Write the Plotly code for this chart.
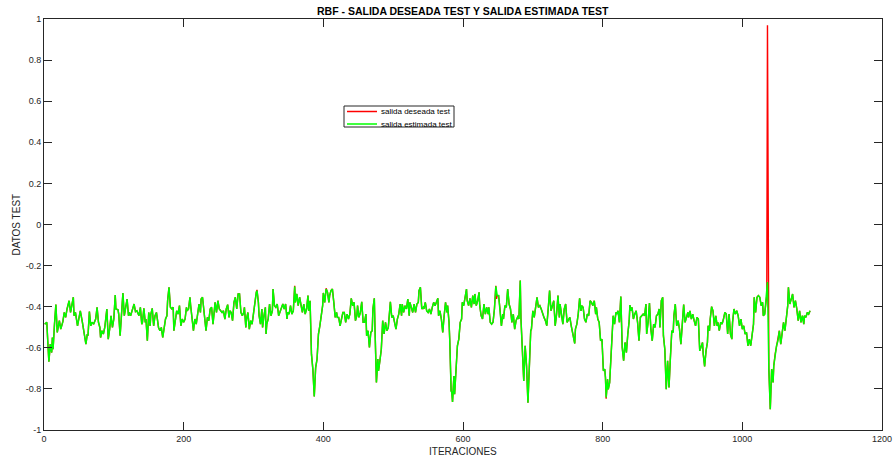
import plotly.graph_objects as go

# Iteration index of each sample of the test set
iteraciones = [
    1, 4, 6, 7, 9, 11, 12, 13, 15, 17, 19, 21, 22, 24, 27, 29, 31, 33, 36, 38,
    40, 42, 43, 45, 48, 50, 52, 55, 57, 60, 62, 63, 65, 67, 69, 71, 74, 76, 78, 80,
    81, 83, 85, 87, 90, 92, 94, 96, 98, 100, 102, 103, 106, 107, 109, 111, 113, 115, 117, 119,
    121, 122, 124, 126, 129, 131, 133, 136, 138, 140, 141,
    143, 145, 146, 148, 150, 152, 153, 155, 157, 159, 161, 163, 164, 166, 168, 170, 172, 174, 176, 177,
    179, 181, 183, 185, 186, 188, 190, 192, 194, 196, 198, 200, 202, 204, 205, 207, 209, 210, 212, 214,
    216, 218, 220, 222, 224, 225, 227, 229, 231, 232, 234, 236, 238, 240, 242, 244, 245, 247, 249, 251,
    253, 255, 257, 259, 261, 263, 265, 266, 268, 270, 272, 274, 276, 278, 280, 282, 284, 286, 287, 289,
    290, 292, 294, 296, 298, 300, 302, 304, 305, 307, 308, 310, 312, 313, 315, 317, 318, 319, 321, 323,
    325, 327, 328, 330, 332, 334, 336, 338, 340, 342, 344, 346, 348, 349, 351, 353, 355, 357, 359, 360,
    362, 364, 366, 368, 370, 372, 374, 376, 378, 379, 381, 383, 385, 387, 389, 391, 393, 395, 397, 399,
    400, 402, 404, 406, 408, 409, 411, 413, 415, 417, 419, 420, 422, 424, 426, 428, 430, 432,
    434, 436, 438, 440, 442, 444, 446, 448, 449, 451, 453, 455, 457, 459, 461, 462, 464, 466, 468, 470,
    471, 473, 474, 476, 478, 479, 481, 483, 485, 487, 489, 491, 493, 494, 496, 498, 500, 502, 504, 506,
    508, 510, 512, 513, 515, 517, 519, 521, 523, 524, 526, 528, 530, 532, 534, 536, 537, 539, 541, 543,
    544, 546, 548, 550, 552, 554, 556, 558, 560, 562, 564, 565, 567, 569, 571, 573, 575,
    577, 578, 580, 581, 583, 584, 585, 587, 588, 590, 592, 594, 596, 598, 599, 601, 603, 605, 606, 608,
    610, 612, 614, 616, 617, 619, 621, 623, 624, 626, 628, 630, 632, 634, 636, 637, 639, 641, 643, 645,
    647, 648, 649, 651, 653, 655, 657, 658, 660, 662, 664, 666, 668, 670, 672, 674, 676, 678, 679, 680,
    682, 683, 685, 687, 689, 691, 693, 695, 697, 698, 700, 702, 704, 706, 708, 710, 712, 714, 716, 718,
    720, 722, 724, 726, 728, 730, 732, 734, 736, 738, 739, 741, 743, 745, 747, 749, 751, 753, 755, 757,
    758, 760, 761, 763, 765, 767, 769, 770, 772, 774, 776, 778, 780, 782, 784, 786, 788, 790, 791, 793,
    795, 797, 799, 800, 801, 803, 804, 805, 807, 808, 810, 812, 814, 815, 817, 819, 820, 822, 824, 826,
    828, 830, 832, 834, 836, 838, 839, 841, 842, 844, 846, 848, 850, 852, 854, 856, 858, 860,
    862, 863, 865, 867, 869, 871, 873, 875, 877, 879, 881, 882, 884, 886, 887, 889, 891, 893, 895, 897,
    899, 901, 902, 904, 906, 908, 910, 912, 914, 916, 918, 920, 922, 923, 925, 927, 929, 931, 933, 935,
    937, 939, 941, 943, 944, 946, 948, 950, 951, 953, 954, 956, 958, 960, 962, 964, 965, 967, 969, 971,
    973, 975, 977, 979, 981, 983, 985, 986, 988, 990, 992, 994, 996, 998, 1000, 1002, 1004,
    1006, 1008, 1010, 1012, 1014, 1016, 1017, 1019, 1021, 1023, 1025, 1027, 1029, 1030, 1032, 1034, 1035, 1036, 1038, 1040,
    1042, 1044, 1045, 1047, 1049, 1051, 1053, 1055, 1057, 1059, 1061, 1063, 1065, 1066, 1068, 1070, 1072, 1074, 1076, 1078,
    1080, 1082, 1084, 1086, 1088, 1089, 1091, 1093, 1095, 1097,
]

# Target output of the test set
salida_deseada = [
    -0.485, -0.476, -0.607, -0.668, -0.582, -0.623, -0.550, -0.607, -0.485, -0.390, -0.525, -0.493, -0.468, -0.509, -0.473, -0.428, -0.452, -0.411, -0.371, -0.428,
    -0.395, -0.354, -0.444, -0.428, -0.493, -0.460, -0.420, -0.476, -0.517, -0.582, -0.533, -0.541, -0.424, -0.493, -0.476, -0.485, -0.460, -0.403, -0.476, -0.501,
    -0.550, -0.517, -0.533, -0.501, -0.411, -0.558, -0.509, -0.444, -0.501, -0.460, -0.343, -0.411, -0.415, -0.436, -0.541, -0.428, -0.333, -0.444, -0.411, -0.363,
    -0.444, -0.428, -0.444, -0.420, -0.387, -0.424, -0.420, -0.444, -0.403, -0.485, -0.476,
    -0.408, -0.476, -0.460, -0.566, -0.428, -0.493, -0.436, -0.408, -0.493, -0.444, -0.428, -0.493, -0.501, -0.517, -0.501, -0.550, -0.493, -0.460, -0.444, -0.371,
    -0.306, -0.403, -0.411, -0.403, -0.517, -0.460, -0.420, -0.436, -0.395, -0.493, -0.460, -0.476, -0.460, -0.403, -0.420, -0.411, -0.354, -0.395, -0.460, -0.517,
    -0.460, -0.485, -0.436, -0.387, -0.428, -0.363, -0.354, -0.428, -0.476, -0.517, -0.452, -0.468, -0.411, -0.403, -0.485, -0.411, -0.379, -0.428, -0.371, -0.411,
    -0.420, -0.428, -0.420, -0.460, -0.411, -0.390, -0.452, -0.420, -0.428, -0.468, -0.379, -0.354, -0.411, -0.338, -0.338, -0.428, -0.444, -0.428, -0.403, -0.501,
    -0.460, -0.428, -0.509, -0.468, -0.485, -0.436, -0.363, -0.330, -0.318, -0.379, -0.444, -0.485, -0.411, -0.501, -0.444, -0.403, -0.533, -0.485, -0.460, -0.387,
    -0.444, -0.420, -0.314, -0.395, -0.403, -0.387, -0.444, -0.428, -0.403, -0.387, -0.411, -0.387, -0.460, -0.428, -0.436, -0.395, -0.436, -0.420, -0.298, -0.379,
    -0.338, -0.395, -0.354, -0.395, -0.428, -0.387, -0.436, -0.411, -0.346, -0.420, -0.371, -0.631, -0.704, -0.837, -0.696, -0.655, -0.533, -0.493, -0.444, -0.395,
    -0.333, -0.379, -0.310, -0.330, -0.379, -0.346, -0.322, -0.314, -0.379, -0.452, -0.428, -0.452, -0.452, -0.493, -0.460, -0.428, -0.428, -0.476,
    -0.436, -0.460, -0.436, -0.359, -0.395, -0.379, -0.468, -0.444, -0.395, -0.452, -0.428, -0.376, -0.476, -0.476, -0.436, -0.541, -0.517, -0.598, -0.525, -0.517,
    -0.411, -0.359, -0.509, -0.769, -0.655, -0.712, -0.663, -0.607, -0.468, -0.533, -0.476, -0.517, -0.501, -0.436, -0.376, -0.452, -0.444, -0.476, -0.509, -0.460,
    -0.436, -0.387, -0.444, -0.387, -0.428, -0.395, -0.411, -0.363, -0.444, -0.379, -0.411, -0.428, -0.387, -0.428, -0.387, -0.379, -0.322, -0.306, -0.411, -0.403,
    -0.411, -0.379, -0.420, -0.428, -0.411, -0.436, -0.403, -0.379, -0.395, -0.371, -0.359, -0.444, -0.420, -0.460, -0.525, -0.444, -0.379,
    -0.428, -0.395, -0.476, -0.558, -0.810, -0.818, -0.863, -0.737, -0.826, -0.688, -0.590, -0.558, -0.476, -0.460, -0.379, -0.395, -0.346, -0.314, -0.371, -0.395,
    -0.359, -0.403, -0.346, -0.387, -0.338, -0.395, -0.371, -0.330, -0.395, -0.444, -0.460, -0.387, -0.436, -0.403, -0.436, -0.403, -0.476, -0.485, -0.476, -0.411,
    -0.298, -0.362, -0.346, -0.346, -0.411, -0.493, -0.436, -0.460, -0.395, -0.403, -0.314, -0.387, -0.411, -0.476, -0.436, -0.509, -0.468, -0.452, -0.444, -0.460,
    -0.273, -0.460, -0.639, -0.761, -0.590, -0.688, -0.867, -0.672, -0.517, -0.509, -0.420, -0.452, -0.395, -0.354, -0.403, -0.395, -0.411, -0.436, -0.452, -0.468,
    -0.493, -0.411, -0.322, -0.420, -0.387, -0.371, -0.493, -0.436, -0.346, -0.452, -0.387, -0.444, -0.485, -0.411, -0.387, -0.476, -0.460, -0.452, -0.493, -0.533,
    -0.533, -0.579, -0.509, -0.485, -0.436, -0.359, -0.420, -0.395, -0.403, -0.460, -0.476, -0.436, -0.444, -0.371, -0.379, -0.395, -0.371, -0.436, -0.403, -0.460,
    -0.476, -0.566, -0.558, -0.688, -0.712, -0.704, -0.745, -0.848, -0.753, -0.802, -0.769, -0.639, -0.533, -0.444, -0.485, -0.428, -0.436, -0.420, -0.476, -0.350,
    -0.598, -0.663, -0.574, -0.623, -0.533, -0.468, -0.392, -0.420, -0.403, -0.460, -0.436, -0.420, -0.476, -0.566, -0.452, -0.444, -0.436, -0.444,
    -0.387, -0.533, -0.476, -0.382, -0.509, -0.566, -0.485, -0.501, -0.444, -0.436, -0.411, -0.501, -0.371, -0.354, -0.541, -0.607, -0.802, -0.663, -0.793, -0.647,
    -0.517, -0.525, -0.444, -0.387, -0.493, -0.468, -0.509, -0.582, -0.476, -0.390, -0.476, -0.444, -0.428, -0.452, -0.420, -0.460, -0.436, -0.468, -0.493, -0.452,
    -0.460, -0.615, -0.598, -0.574, -0.631, -0.691, -0.615, -0.574, -0.493, -0.517, -0.460, -0.400, -0.420, -0.493, -0.444, -0.493, -0.476, -0.517, -0.476, -0.485,
    -0.460, -0.428, -0.436, -0.533, -0.436, -0.533, -0.558, -0.476, -0.411, -0.436, -0.420, -0.444, -0.493, -0.460, -0.509, -0.493, -0.533,
    -0.525, -0.590, -0.558, -0.590, -0.533, -0.485, -0.354, -0.428, -0.354, -0.346, -0.354, -0.395, -0.379, -0.444, -0.436, -0.363, -0.346, 0.970, -0.704, -0.899,
    -0.704, -0.769, -0.688, -0.631, -0.590, -0.566, -0.517, -0.582, -0.533, -0.476, -0.517, -0.444, -0.395, -0.306, -0.387, -0.363, -0.338, -0.403, -0.371, -0.411,
    -0.468, -0.420, -0.476, -0.444, -0.485, -0.444, -0.452, -0.428, -0.436, -0.420,
]

# Output estimated by the RBF network on the same samples
salida_estimada = [
    -0.485, -0.476, -0.607, -0.668, -0.582, -0.623, -0.550, -0.607, -0.485, -0.390, -0.525, -0.493, -0.468, -0.509, -0.473, -0.428, -0.452, -0.411, -0.371, -0.428,
    -0.395, -0.354, -0.444, -0.428, -0.493, -0.460, -0.420, -0.476, -0.517, -0.582, -0.533, -0.541, -0.424, -0.493, -0.476, -0.485, -0.460, -0.403, -0.476, -0.501,
    -0.550, -0.517, -0.533, -0.501, -0.411, -0.558, -0.509, -0.444, -0.501, -0.460, -0.343, -0.411, -0.415, -0.436, -0.541, -0.428, -0.333, -0.444, -0.411, -0.363,
    -0.444, -0.428, -0.444, -0.420, -0.387, -0.424, -0.420, -0.444, -0.403, -0.485, -0.476,
    -0.408, -0.476, -0.460, -0.566, -0.428, -0.493, -0.436, -0.408, -0.493, -0.444, -0.428, -0.493, -0.501, -0.517, -0.501, -0.550, -0.493, -0.460, -0.444, -0.371,
    -0.306, -0.403, -0.411, -0.403, -0.517, -0.460, -0.420, -0.436, -0.395, -0.493, -0.460, -0.476, -0.460, -0.403, -0.420, -0.411, -0.354, -0.395, -0.460, -0.517,
    -0.460, -0.485, -0.436, -0.387, -0.428, -0.363, -0.354, -0.428, -0.476, -0.517, -0.452, -0.468, -0.411, -0.403, -0.485, -0.411, -0.379, -0.428, -0.371, -0.411,
    -0.420, -0.428, -0.420, -0.460, -0.411, -0.390, -0.452, -0.420, -0.428, -0.468, -0.379, -0.354, -0.411, -0.338, -0.338, -0.428, -0.444, -0.428, -0.403, -0.501,
    -0.460, -0.428, -0.509, -0.468, -0.485, -0.436, -0.363, -0.330, -0.322, -0.379, -0.444, -0.485, -0.411, -0.501, -0.444, -0.403, -0.533, -0.485, -0.460, -0.387,
    -0.444, -0.420, -0.314, -0.395, -0.403, -0.387, -0.444, -0.428, -0.403, -0.387, -0.411, -0.387, -0.460, -0.428, -0.436, -0.395, -0.436, -0.420, -0.302, -0.379,
    -0.338, -0.395, -0.354, -0.395, -0.428, -0.387, -0.436, -0.411, -0.346, -0.420, -0.371, -0.631, -0.704, -0.837, -0.696, -0.655, -0.533, -0.493, -0.444, -0.395,
    -0.333, -0.379, -0.314, -0.330, -0.379, -0.346, -0.322, -0.314, -0.379, -0.452, -0.428, -0.452, -0.452, -0.493, -0.460, -0.428, -0.428, -0.476,
    -0.436, -0.460, -0.436, -0.359, -0.395, -0.379, -0.468, -0.444, -0.395, -0.452, -0.428, -0.376, -0.476, -0.476, -0.436, -0.541, -0.517, -0.598, -0.525, -0.517,
    -0.411, -0.359, -0.509, -0.769, -0.655, -0.712, -0.663, -0.607, -0.468, -0.533, -0.476, -0.517, -0.501, -0.436, -0.376, -0.452, -0.444, -0.476, -0.509, -0.460,
    -0.436, -0.387, -0.444, -0.387, -0.428, -0.395, -0.411, -0.363, -0.444, -0.379, -0.411, -0.428, -0.387, -0.428, -0.387, -0.379, -0.322, -0.306, -0.411, -0.403,
    -0.411, -0.379, -0.420, -0.428, -0.411, -0.436, -0.403, -0.379, -0.395, -0.371, -0.359, -0.444, -0.420, -0.460, -0.525, -0.444, -0.379,
    -0.428, -0.395, -0.476, -0.558, -0.810, -0.818, -0.863, -0.737, -0.826, -0.688, -0.590, -0.558, -0.476, -0.460, -0.379, -0.395, -0.346, -0.314, -0.371, -0.395,
    -0.359, -0.403, -0.346, -0.387, -0.338, -0.395, -0.371, -0.330, -0.395, -0.444, -0.460, -0.387, -0.436, -0.403, -0.436, -0.403, -0.476, -0.485, -0.476, -0.411,
    -0.301, -0.346, -0.346, -0.346, -0.411, -0.493, -0.436, -0.460, -0.395, -0.403, -0.314, -0.387, -0.411, -0.476, -0.436, -0.509, -0.468, -0.452, -0.444, -0.460,
    -0.273, -0.460, -0.639, -0.761, -0.590, -0.688, -0.867, -0.672, -0.517, -0.509, -0.420, -0.452, -0.395, -0.354, -0.403, -0.395, -0.411, -0.436, -0.452, -0.468,
    -0.493, -0.411, -0.322, -0.420, -0.387, -0.371, -0.493, -0.436, -0.346, -0.452, -0.387, -0.444, -0.485, -0.411, -0.387, -0.476, -0.460, -0.452, -0.493, -0.533,
    -0.533, -0.579, -0.509, -0.485, -0.436, -0.359, -0.420, -0.395, -0.403, -0.460, -0.476, -0.436, -0.444, -0.371, -0.379, -0.395, -0.371, -0.436, -0.403, -0.460,
    -0.476, -0.566, -0.558, -0.688, -0.712, -0.704, -0.745, -0.842, -0.753, -0.802, -0.769, -0.639, -0.533, -0.444, -0.485, -0.428, -0.436, -0.420, -0.476, -0.350,
    -0.598, -0.663, -0.574, -0.623, -0.533, -0.468, -0.392, -0.420, -0.403, -0.460, -0.436, -0.420, -0.476, -0.566, -0.452, -0.444, -0.436, -0.444,
    -0.387, -0.533, -0.476, -0.382, -0.509, -0.566, -0.485, -0.501, -0.444, -0.436, -0.411, -0.501, -0.371, -0.354, -0.541, -0.607, -0.802, -0.663, -0.793, -0.647,
    -0.517, -0.525, -0.444, -0.387, -0.493, -0.468, -0.509, -0.582, -0.476, -0.390, -0.476, -0.444, -0.428, -0.452, -0.420, -0.460, -0.436, -0.468, -0.493, -0.452,
    -0.460, -0.615, -0.598, -0.574, -0.631, -0.691, -0.615, -0.574, -0.493, -0.517, -0.460, -0.400, -0.420, -0.493, -0.444, -0.493, -0.476, -0.517, -0.476, -0.485,
    -0.460, -0.428, -0.436, -0.533, -0.436, -0.533, -0.558, -0.476, -0.411, -0.436, -0.420, -0.444, -0.493, -0.460, -0.509, -0.493, -0.533,
    -0.525, -0.590, -0.558, -0.590, -0.533, -0.485, -0.354, -0.428, -0.354, -0.346, -0.354, -0.395, -0.379, -0.444, -0.436, -0.363, -0.346, -0.280, -0.704, -0.899,
    -0.704, -0.769, -0.688, -0.631, -0.590, -0.566, -0.517, -0.582, -0.533, -0.476, -0.517, -0.444, -0.395, -0.306, -0.387, -0.363, -0.338, -0.403, -0.371, -0.411,
    -0.468, -0.420, -0.476, -0.444, -0.485, -0.444, -0.452, -0.428, -0.436, -0.420,
]

x_ticks = [0, 200, 400, 600, 800, 1000, 1200]
x_tick_labels = ["0", "200", "400", "600", "800", "1000", "1200"]
y_ticks = [-1, -0.8, -0.6, -0.4, -0.2, 0, 0.2, 0.4, 0.6, 0.8, 1]
y_tick_labels = ["-1", "-0.8", "-0.6", "-0.4", "-0.2", "0", "0.2", "0.4", "0.6", "0.8", "1"]

nombres_series = ["salida deseada test", "salida estimada test"]
colores_series = ["#ff0000", "#00ff00"]

FONT = "Liberation Sans, Arial, Helvetica, sans-serif"
AXIS_COLOR = "#262626"

fig = go.Figure()
fig.add_trace(go.Scatter(
    x=iteraciones, y=salida_deseada, mode="lines", name=nombres_series[0],
    line=dict(color=colores_series[0], width=1.4), showlegend=False, hoverinfo="skip",
))
fig.add_trace(go.Scatter(
    x=iteraciones, y=salida_estimada, mode="lines", name=nombres_series[1],
    line=dict(color=colores_series[1], width=1.5), showlegend=False, hoverinfo="skip",
))

axis_common = dict(
    showline=True, linecolor=AXIS_COLOR, linewidth=1, mirror="ticks",
    ticks="inside", ticklen=8, tickwidth=1, tickcolor=AXIS_COLOR,
    showgrid=False, zeroline=False,
    tickfont=dict(family=FONT, size=9, color=AXIS_COLOR),
)
fig.update_xaxes(range=[0, 1200], tickvals=x_ticks, ticktext=x_tick_labels, **axis_common)
fig.update_yaxes(range=[-1, 1], tickvals=y_ticks, ticktext=y_tick_labels, **axis_common)

# Plot area geometry in pixels, used to place the hand-drawn legend box
L, R, T, B = 44, 12, 19, 29
W, H = 894, 459
pw, ph = W - L - R, H - T - B


def px(xp):
    return (xp - L) / pw


def py(yp):
    return (H - B - yp) / ph


shapes = [
    dict(type="rect", xref="paper", yref="paper",
         x0=px(344), x1=px(454), y0=py(127), y1=py(106),
         line=dict(color=AXIS_COLOR, width=1), fillcolor="white", layer="above"),
]
annotations = [
    dict(text="<b>RBF - SALIDA DESEADA TEST Y SALIDA ESTIMADA TEST</b>",
         xref="paper", yref="paper", x=0.5, y=py(11), xanchor="center", yanchor="middle",
         showarrow=False, font=dict(family=FONT, size=10.5, color="#000000")),
    dict(text="ITERACIONES", xref="paper", yref="paper", x=0.5, y=py(451),
         xanchor="center", yanchor="middle", showarrow=False,
         font=dict(family=FONT, size=10, color=AXIS_COLOR)),
    dict(text="DATOS TEST", xref="paper", yref="paper", x=px(16), y=0.5,
         xanchor="center", yanchor="middle", textangle=-90, showarrow=False,
         font=dict(family=FONT, size=10, color=AXIS_COLOR)),
]
for i, (nombre, color) in enumerate(zip(nombres_series, colores_series)):
    yl = 111.5 + i * 12.5
    shapes.append(dict(type="line", xref="paper", yref="paper",
                       x0=px(347), x1=px(377), y0=py(yl), y1=py(yl),
                       line=dict(color=color, width=1.5), layer="above"))
    annotations.append(dict(text=nombre, xref="paper", yref="paper",
                            x=px(378.5), y=py(yl), xanchor="left", yanchor="middle",
                            showarrow=False,
                            font=dict(family=FONT, size=8, color="#000000")))

fig.update_layout(
    width=W, height=H,
    margin=dict(l=L, r=R, t=T, b=B, autoexpand=False),
    paper_bgcolor="white", plot_bgcolor="white",
    shapes=shapes, annotations=annotations,
    showlegend=False,
)

fig.write_html("out.html")
